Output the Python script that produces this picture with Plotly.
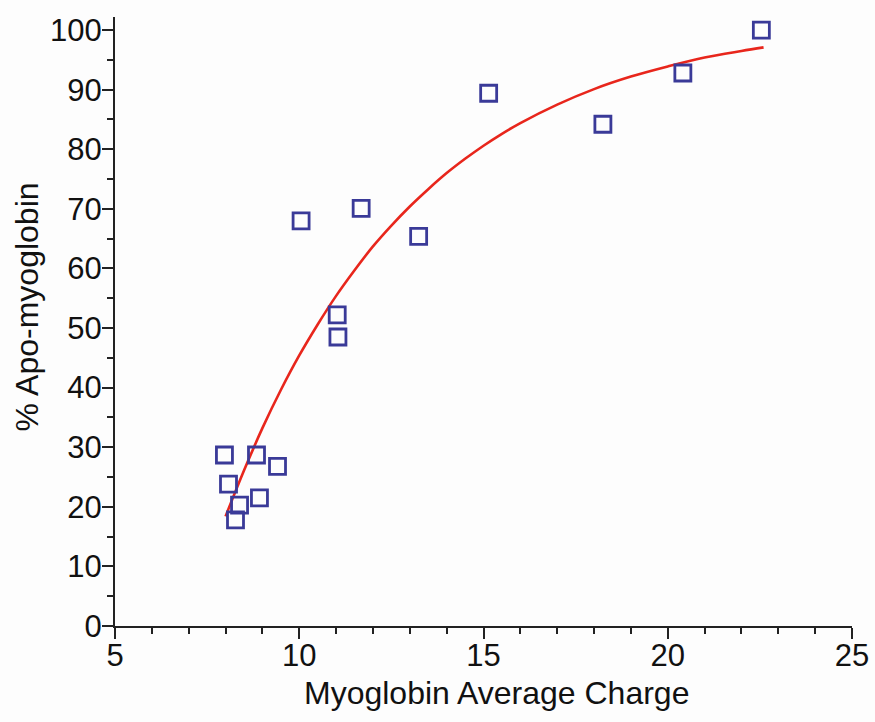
import plotly.graph_objects as go

# Measured data points
charge = [7.97, 8.08, 8.38, 8.27, 8.84, 8.92, 9.41, 10.05, 11.03, 11.05, 11.68, 13.24, 15.14, 18.24, 20.41, 22.54]
apo = [28.7, 23.8, 20.3, 17.8, 28.7, 21.5, 26.8, 68.0, 52.2, 48.5, 70.1, 65.4, 89.4, 84.2, 92.8, 100.0]

# Fitted curve
curve_x = [8.0, 8.5, 9.0, 9.5, 10.0, 10.5, 11.0, 11.5, 12.0, 12.5, 13.0, 13.5, 14.0, 14.5, 15.0, 15.5, 16.0, 17.0, 18.0, 19.0, 20.0, 21.0, 22.0, 22.6]
curve_y = [18.4, 26.1, 33.2, 39.6, 45.4, 50.6, 55.4, 59.7, 63.7, 67.2, 70.4, 73.3, 76.0, 78.4, 80.6, 82.6, 84.4, 87.5, 90.1, 92.2, 93.9, 95.4, 96.5, 97.1]

x_ticks = [5, 10, 15, 20, 25]
y_ticks = [0, 10, 20, 30, 40, 50, 60, 70, 80, 90, 100]

x_title = "Myoglobin Average Charge"
y_title = "% Apo-myoglobin"

fig = go.Figure()
fig.add_trace(go.Scatter(
    x=curve_x, y=curve_y, mode="lines", line=dict(color="#e8261c", width=2.6, shape="spline", smoothing=1.0),
    hoverinfo="skip", showlegend=False))
fig.add_trace(go.Scatter(
    x=charge, y=apo, mode="markers",
    marker=dict(symbol="square-open", size=16, color="#3a3a98", line=dict(width=2.8, color="#3a3a98")),
    showlegend=False))

font_family = "Liberation Sans, Arial, sans-serif"
axis_common = dict(
    showline=True, linecolor="#222", linewidth=2, showgrid=False, zeroline=False,
    ticks="outside", ticklen=11, tickwidth=2, tickcolor="#222", automargin=False,
    tickfont=dict(family=font_family, size=31, color="#111"),
)
fig.update_xaxes(range=[5, 25], tickvals=x_ticks, ticktext=[str(v) for v in x_ticks],
                 ticklabelstandoff=-10,
                 minor=dict(dtick=1, tick0=5, ticks="outside", ticklen=6, tickwidth=2, tickcolor="#222"),
                 **axis_common)
fig.update_yaxes(range=[0, 102.2], tickvals=y_ticks, ticktext=[str(v) for v in y_ticks],
                 ticklabelstandoff=-6,
                 minor=dict(dtick=5, tick0=0, ticks="outside", ticklen=6, tickwidth=2, tickcolor="#222"),
                 **axis_common)

fig.add_annotation(text=x_title, xref="paper", yref="paper", x=0.5177, y=-0.110,
                   xanchor="center", yanchor="middle", showarrow=False,
                   font=dict(family=font_family, size=32, color="#111"))
fig.add_annotation(text=y_title, xref="paper", yref="paper", x=-0.1194, y=0.523,
                   xanchor="center", yanchor="middle", textangle=-90, showarrow=False,
                   font=dict(family=font_family, size=32, color="#111"))

fig.update_layout(
    width=875, height=722, margin=dict(l=115, r=23, t=17, b=96),
    paper_bgcolor="#fdfdfd", plot_bgcolor="#fdfdfd",
)
fig.write_html("out.html")
